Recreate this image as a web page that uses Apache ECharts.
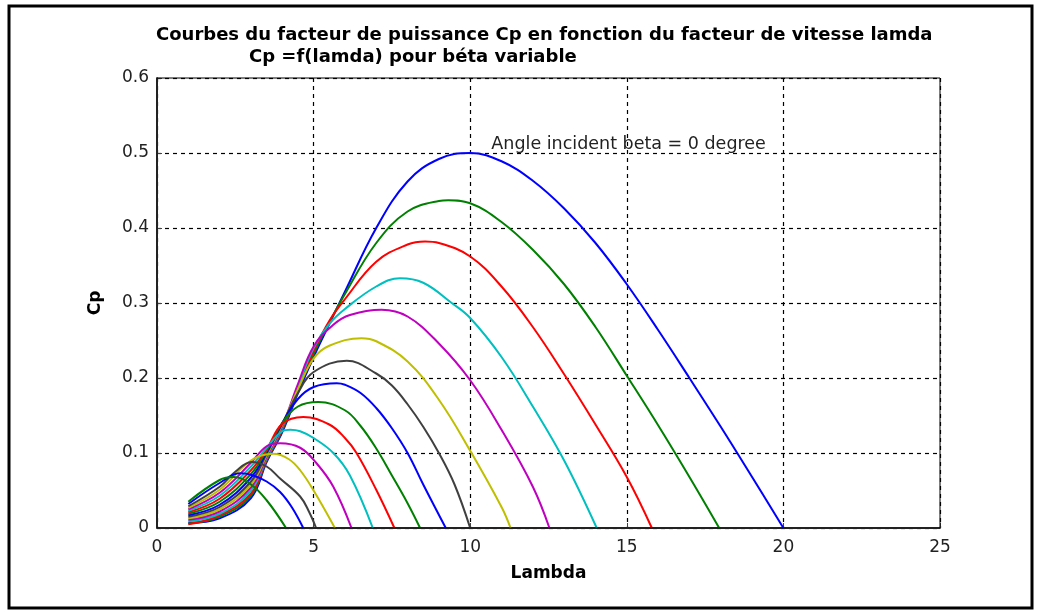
<!DOCTYPE html>
<html>
<head>
<meta charset="utf-8">
<script src="https://cdn.jsdelivr.net/npm/echarts@6/dist/echarts.min.js"></script>
<style>
  html, body { margin: 0; padding: 0; background: #fff; }
  #chart { width: 1041px; height: 612px; }
</style>
</head>
<body>
<div id="chart"></div>
<script>
// Cp = f(lambda), one curve per pitch angle beta (beta = 0 is the big blue one)
const curve1 = [[1,0.007],[2,0.013],[3,0.04],[3.5,0.088],[4,0.128],[4.5,0.18],[5,0.228],[5.5,0.272],[6,0.315],[7,0.4],[8,0.462],[9,0.492],[10,0.5],[11,0.489],[12,0.463],[13,0.426],[14,0.38],[15,0.325],[16,0.264],[17,0.2],[18,0.135],[19,0.068],[20,0]];
const curve2 = [[1,0.006],[2,0.015],[3,0.043],[3.5,0.09],[4,0.13],[4.5,0.183],[5,0.232],[5.5,0.274],[6,0.312],[7,0.38],[8,0.422],[9,0.436],[9.3,0.437],[10,0.433],[11,0.408],[12,0.371],[13,0.325],[14,0.268],[15,0.203],[16,0.137],[17,0.068],[17.95,0]];
const curve3 = [[1,0.005],[2,0.017],[3,0.046],[3.5,0.091],[4,0.132],[4.5,0.186],[5,0.236],[5.5,0.276],[6,0.305],[7,0.355],[8,0.378],[8.56,0.382],[9,0.38],[10,0.362],[11,0.322],[12,0.268],[13,0.205],[14,0.138],[15,0.068],[15.8,0]];
const curve4 = [[1,0.009],[2,0.019],[3,0.05],[3.5,0.093],[4,0.134],[4.5,0.189],[5,0.24],[5.5,0.272],[6,0.292],[7,0.322],[7.76,0.333],[8.5,0.327],[9.41,0.3],[10,0.28],[11,0.228],[12,0.162],[13,0.09],[14.04,0]];
const curve5 = [[1,0.011],[2,0.022],[3,0.054],[3.5,0.095],[4,0.136],[4.5,0.192],[5,0.242],[5.63,0.271],[6.16,0.284],[7.17,0.291],[8,0.282],[9,0.246],[10,0.197],[11,0.131],[12,0.055],[12.53,0]];
const curve6 = [[1,0.013],[2,0.025],[3,0.058],[3.5,0.097],[4,0.138],[4.5,0.185],[5,0.226],[5.5,0.243],[6.53,0.253],[7,0.249],[8,0.222],[9,0.171],[10,0.103],[11,0.028],[11.29,0]];
const curve7 = [[1,0.015],[2,0.028],[3,0.062],[3.5,0.099],[4,0.139],[4.5,0.18],[5,0.208],[6.06,0.223],[7,0.206],[7.5,0.19],[8,0.165],[8.5,0.135],[9,0.1],[9.5,0.058],[10,0]];
const curve8 = [[1,0.017],[2,0.031],[3,0.067],[3.5,0.101],[4,0.14],[4.5,0.172],[5,0.188],[5.74,0.193],[6,0.191],[6.5,0.18],[7,0.16],[7.5,0.133],[8,0.1],[8.5,0.058],[9.22,0]];
const curve9 = [[1,0.019],[2,0.035],[3,0.072],[3.5,0.103],[4,0.14],[4.5,0.162],[5.15,0.168],[6,0.157],[6.5,0.136],[7,0.106],[7.5,0.07],[8,0.033],[8.4,0]];
const curve10 = [[1,0.021],[2,0.039],[3,0.077],[3.5,0.105],[4,0.139],[4.67,0.148],[5.5,0.138],[6,0.12],[6.37,0.1],[7,0.051],[7.58,0]];
const curve11 = [[1,0.023],[2,0.043],[3,0.082],[3.5,0.107],[4,0.129],[4.25,0.131],[4.57,0.129],[5,0.12],[5.63,0.1],[6.16,0.07],[6.89,0]];
const curve12 = [[1,0.025],[2,0.047],[3,0.087],[3.5,0.109],[3.93,0.113],[4.57,0.107],[5.1,0.086],[5.63,0.055],[6.21,0]];
const curve13 = [[1,0.027],[2,0.051],[3,0.09],[3.71,0.099],[4.2,0.092],[4.57,0.077],[5,0.05],[5.68,0]];
const curve14 = [[1,0.029],[2,0.055],[2.5,0.075],[3.02,0.088],[3.5,0.082],[3.93,0.066],[4.57,0.042],[4.85,0.022],[5.08,0]];
const curve15 = [[1,0.032],[2,0.06],[2.65,0.073],[3,0.071],[3.5,0.062],[3.93,0.048],[4.3,0.028],[4.67,0]];
const curve16 = [[1,0.035],[2,0.064],[2.44,0.068],[3,0.058],[3.5,0.037],[4.12,0]];

const curves = [curve1, curve2, curve3, curve4, curve5, curve6, curve7, curve8,
                curve9, curve10, curve11, curve12, curve13, curve14, curve15, curve16];
// matlab default colour order: b g r c m y k
const lineColors = ['#0000ff', '#008000', '#ff0000', '#00bfbf', '#bf00bf', '#bfbf00', '#404040'];

const xTicks = [0, 5, 10, 15, 20, 25];
const yTicks = [0, 0.1, 0.2, 0.3, 0.4, 0.5, 0.6];

const titleLine1 = 'Courbes du facteur de puissance Cp en fonction du facteur de vitesse lamda';
const titleLine2 = 'Cp =f(lamda) pour béta variable';
const annotation = 'Angle incident beta = 0 degree';

const chart = echarts.init(document.getElementById('chart'));

const gridDash = { color: '#000', width: 1.2, type: [4, 4] };
const tickFont = { fontFamily: 'DejaVu Sans', fontSize: 17, color: '#222' };

const series = curves.map((pts, i) => {
  const s = {
    type: 'line',
    data: pts,
    showSymbol: false,
    symbol: 'none',
    smooth: 0.4,
    silent: true,
    z: 10 + i,
    lineStyle: { color: lineColors[i % lineColors.length], width: 2 }
  };
  if (i === 0) {
    s.markPoint = {
      symbol: 'circle',
      symbolSize: 1,
      itemStyle: { color: 'transparent' },
      silent: true,
      data: [{
        coord: [10.66, 0.511],
        label: {
          show: true,
          position: 'right',
          distance: 0,
          formatter: annotation,
          color: '#222',
          fontFamily: 'DejaVu Sans',
          fontSize: 17.5
        }
      }]
    };
  }
  return s;
});

const option = {
  backgroundColor: '#fff',
  animation: false,
  title: [
    {
      text: titleLine1,
      left: 151, top: 21,
      textStyle: { fontFamily: 'DejaVu Sans', fontWeight: 'bold', fontSize: 18, color: '#000' }
    },
    {
      text: titleLine2,
      left: 244, top: 43,
      textStyle: { fontFamily: 'DejaVu Sans', fontWeight: 'bold', fontSize: 18, color: '#000' }
    }
  ],
  grid: { left: 157, right: 101, top: 78, bottom: 84, show: false },
  xAxis: {
    type: 'value',
    min: 0, max: 25, interval: 5,
    name: 'Lambda',
    nameLocation: 'middle',
    nameGap: 37,
    nameTextStyle: { fontFamily: 'DejaVu Sans', fontWeight: 'bold', fontSize: 17, color: '#000' },
    axisLine: { show: true, onZero: false, lineStyle: { color: '#444', width: 2 } },
    axisTick: { show: true, inside: true, length: 5, lineStyle: { color: '#444' } },
    axisLabel: Object.assign({ margin: 11, customValues: xTicks }, tickFont),
    splitLine: { show: true, lineStyle: gridDash }
  },
  yAxis: {
    type: 'value',
    min: 0, max: 0.6, interval: 0.1,
    name: 'Cp',
    nameLocation: 'middle',
    nameGap: 53,
    nameTextStyle: { fontFamily: 'DejaVu Sans', fontWeight: 'bold', fontSize: 17, color: '#000' },
    axisLine: { show: true, onZero: false, lineStyle: { color: '#444', width: 2 } },
    axisTick: { show: true, inside: true, length: 5, lineStyle: { color: '#444' } },
    axisLabel: Object.assign({
      margin: 8,
      customValues: yTicks,
      formatter: v => String(+v.toFixed(1))
    }, tickFont),
    splitLine: { show: true, lineStyle: gridDash }
  },
  graphic: [
    // outer black frame of the figure
    { type: 'rect', shape: { x: 9, y: 6, width: 1023, height: 602 },
      style: { fill: null, stroke: '#000', lineWidth: 3 }, silent: true },
    // axes box (top and right edges)
    { type: 'rect', shape: { x: 157, y: 78, width: 783, height: 450 },
      style: { fill: null, stroke: '#000', lineWidth: 1 }, silent: true, z: 100 }
  ],
  series: series
};

chart.setOption(option);
</script>
</body>
</html>
